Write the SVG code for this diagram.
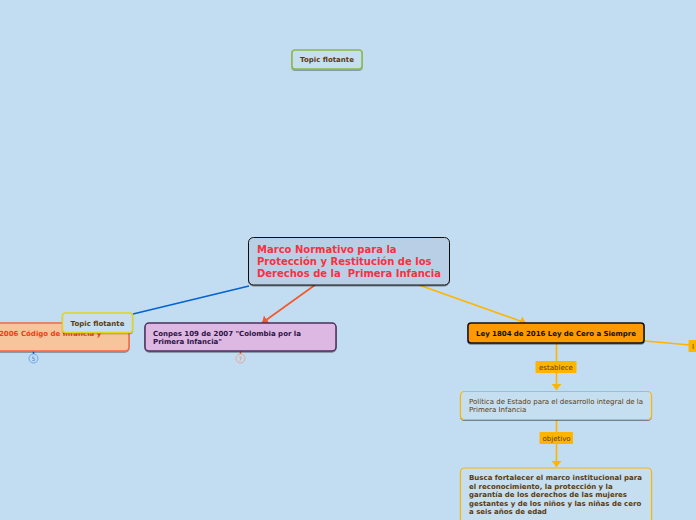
<svg xmlns="http://www.w3.org/2000/svg" width="696" height="520" viewBox="0 0 696 520">
<defs>
<filter id="sh" x="-10%" y="-20%" width="120%" height="140%"><feDropShadow dx="0" dy="1" stdDeviation="0.7" flood-color="#000" flood-opacity="0.4"/></filter>
<marker id="ao" markerUnits="userSpaceOnUse" markerWidth="10" markerHeight="11" refX="6" refY="5" orient="auto"><path d="M0 0L6 5L0 10Z" fill="#ffb400"/></marker>
<marker id="ar" markerUnits="userSpaceOnUse" markerWidth="10" markerHeight="11" refX="6" refY="5" orient="auto"><path d="M0 0L6 5L0 10Z" fill="#f5572a"/></marker>
</defs>
<style>
text{font-family:"DejaVu Sans",Verdana,sans-serif}
.b{font-weight:700}
.box{filter:url(#sh)}
.c{fill:none;stroke-width:1.600}
.o{stroke:#ffb400}
.tag{fill:#ffb400}
.br{fill:#5c3a0e}
</style>
<rect width="696" height="520" fill="#c2ddf1"/>
<g id="connectors">
<path class="c" d="M133 314L249 286" stroke="#0563d1"/>
<path class="c" d="M315 285L262 323" stroke="#f5572a" marker-end="url(#ar)"/>
<path class="c o" d="M419 285L526 323" marker-end="url(#ao)"/>
<path class="c o" d="M645 341L690 345"/>
<path class="c o" d="M556.500 344V390" marker-end="url(#ao)"/>
<path class="c o" d="M556.500 420V467" marker-end="url(#ao)"/>
<path d="M33.500 351V354" stroke="#0563d1" stroke-width="1.500"/>
<path d="M240.500 351V354" stroke="#f5572a" stroke-width="1.500"/>
</g>
<g id="node-central">
<rect class="box" x="248.500" y="237.500" width="201" height="47.500" rx="5" fill="#b8cfe6" stroke="#111" stroke-width="1"/>
<text class="b" font-size="10" fill="#f9303f" xml:space="preserve"><tspan x="257" y="253">Marco Normativo para la</tspan><tspan x="257" y="265">Protección y Restitución de los</tspan><tspan x="257" y="277">Derechos de la  Primera Infancia</tspan></text>
</g>
<g id="node-float-top">
<rect class="box" x="292" y="50" width="70" height="19" rx="3" fill="#c5dff0" stroke="#8bbb43" stroke-width="1.500"/>
<text class="b br" x="327" y="62" font-size="7" text-anchor="middle">Topic flotante</text>
</g>
<g id="node-codigo">
<rect class="box" x="-40" y="323" width="169" height="28" rx="4" fill="#f7c59c" stroke="#f5693f" stroke-width="1.500"/>
<text class="b" x="-1" y="336" font-size="7" fill="#f03c12">2006 Código de Infancia y</text>
</g>
<g id="badge-5">
<circle cx="33.500" cy="358.500" r="4.500" fill="none" stroke="#6aa5ea"/>
<text x="33.500" y="361" font-size="6" text-anchor="middle" fill="#4a85d0">5</text>
</g>
<g id="node-float-left">
<rect class="box" x="62.500" y="313" width="70" height="19.500" rx="3" fill="#c5dff0" stroke="#e5d41a" stroke-width="1.500"/>
<text class="b br" x="97.500" y="325.500" font-size="7" text-anchor="middle">Topic flotante</text>
</g>
<g id="node-conpes">
<rect class="box" x="145" y="323" width="191" height="28" rx="4" fill="#dcb8e2" stroke="#4d2f5e" stroke-width="1.500"/>
<text class="b" font-size="7" fill="#2e1245"><tspan x="153" y="336">Conpes 109 de 2007 "Colombia por la</tspan><tspan x="153" y="344">Primera Infancia"</tspan></text>
</g>
<g id="badge-7">
<circle cx="240.500" cy="358.500" r="4.500" fill="none" stroke="#f0a58e"/>
<text x="240.500" y="361" font-size="6" text-anchor="middle" fill="#e58a70">7</text>
</g>
<g id="node-ley">
<rect class="box" x="468" y="323" width="176" height="20" rx="3" fill="#ff9900" stroke="#111" stroke-width="1.500"/>
<text class="b" x="476" y="336" font-size="7" fill="#111" textLength="160">Ley 1804 de 2016 Ley de Cero a Siempre</text>
</g>
<g id="label-i">
<rect class="tag" x="688.500" y="340" width="12" height="12" rx="1"/>
<text x="692" y="349" font-size="7" fill="#5c3a0e">I</text>
</g>
<g id="label-establece">
<rect class="tag" x="535.500" y="361" width="41" height="12" rx="1"/>
<text x="539" y="369.500" font-size="7" fill="#5c3a0e">establece</text>
</g>
<g id="node-politica">
<rect class="box" x="460.500" y="391.500" width="191" height="28" rx="4" fill="#c5dff0" stroke="#ffb400" stroke-width="1.200"/>
<text font-size="7" fill="#5c3a0e"><tspan x="469" y="403.500">Política de Estado para el desarrollo integral de la</tspan><tspan x="469" y="411.500">Primera Infancia</tspan></text>
</g>
<g id="label-objetivo">
<rect class="tag" x="539.500" y="432" width="33.500" height="12" rx="1"/>
<text x="542.500" y="440.500" font-size="7" fill="#5c3a0e">objetivo</text>
</g>
<g id="node-busca">
<rect class="box" x="460.500" y="468" width="191" height="60" rx="4" fill="#c5dff0" stroke="#ffb400" stroke-width="1.200"/>
<text class="b br" font-size="7"><tspan x="469" y="480">Busca fortalecer el marco institucional para</tspan><tspan x="469" y="488.500">el reconocimiento, la protección y la</tspan><tspan x="469" y="497">garantía de los derechos de las mujeres</tspan><tspan x="469" y="505.500">gestantes y de los niños y las niñas de cero</tspan><tspan x="469" y="514">a seis años de edad</tspan></text>
</g>
</svg>
